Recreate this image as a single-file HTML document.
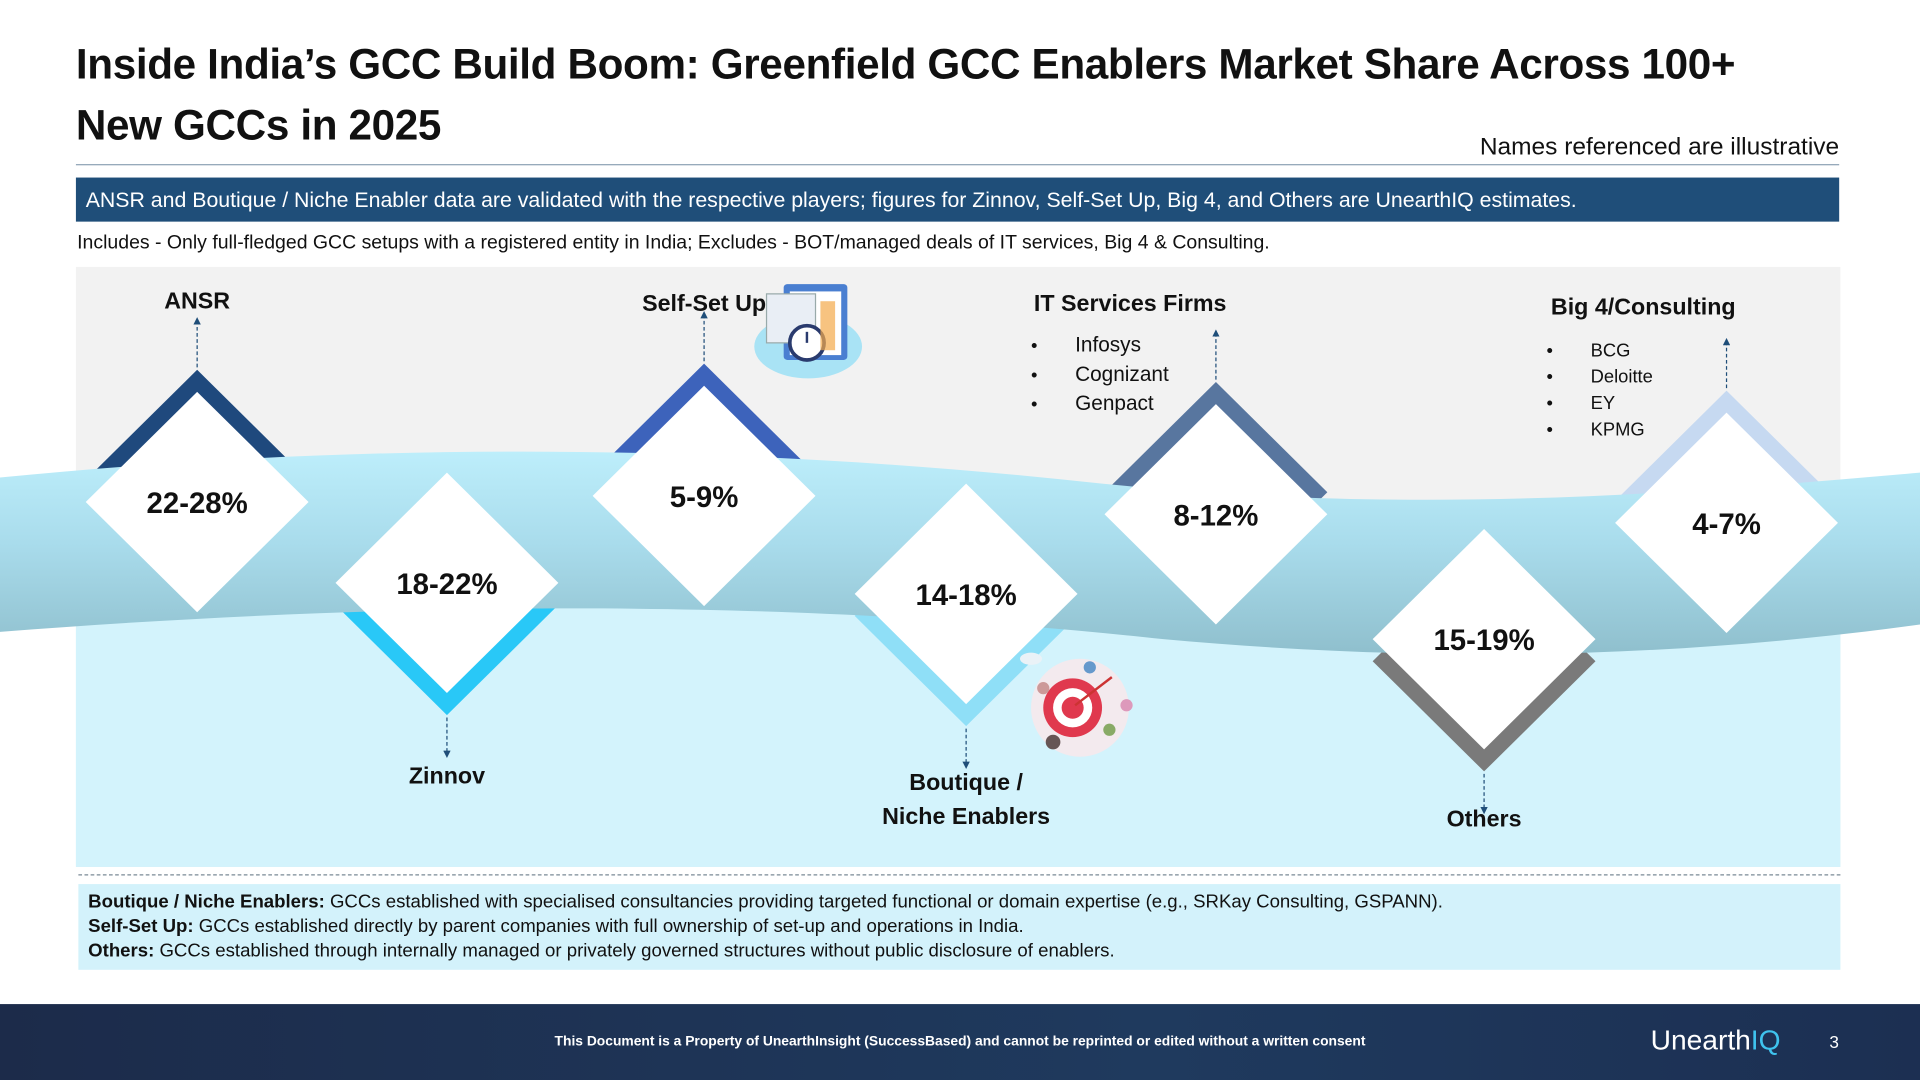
<!DOCTYPE html>
<html><head><meta charset="utf-8">
<style>
html,body{margin:0;padding:0;background:#fff;overflow:hidden;}
body{width:1920px;height:1080px;}
#stage{position:absolute;left:0;top:0;width:1568px;height:882px;transform:scale(1.22449);transform-origin:0 0;font-family:"Liberation Sans",sans-serif;color:#000;}
.abs{position:absolute;}
#title{left:62px;top:28px;font-size:34.5px;font-weight:bold;line-height:50px;color:#111;letter-spacing:-0.3px;white-space:nowrap;}
#rule{left:62px;top:134px;width:1440px;height:1px;background:#8ea2b5;}
#illus{right:66px;top:109px;font-size:20px;color:#111;}
#banner{left:62px;top:145px;width:1440px;height:36px;background:#1f4e79;color:#fff;font-size:17.4px;line-height:36px;padding-left:8px;box-sizing:border-box;white-space:nowrap;}
#incl{left:63px;top:190px;font-size:15.9px;color:#111;white-space:nowrap;}
#notes{left:64px;top:722px;width:1439px;height:70px;background:#d3f2fb;font-size:15.2px;line-height:20px;padding:5px 8px;box-sizing:border-box;color:#111;white-space:nowrap;}
#dash{left:64px;top:714px;width:1439px;border-top:1.5px dashed #7a8a96;}
#footer{left:0;top:820px;width:1568px;height:62px;background:linear-gradient(90deg,#1c2b4a,#1f3a5e 60%,#1c2f52);}
#foottext{left:0;width:1568px;top:845px;text-align:center;color:#fff;font-size:11.3px;font-weight:bold;}
#logo{left:1348px;top:836px;color:#fff;font-size:23px;}
#page{left:1494px;top:843px;color:#fff;font-size:14px;}
</style></head>
<body>
<div id="stage">
<div id="title" class="abs">Inside India’s GCC Build Boom: Greenfield GCC Enablers Market Share Across 100+<br>New GCCs in 2025</div>
<div id="illus" class="abs">Names referenced are illustrative</div>
<div id="rule" class="abs"></div>
<div id="banner" class="abs">ANSR and Boutique / Niche Enabler data are validated with the respective players; figures for Zinnov, Self-Set Up, Big 4, and Others are UnearthIQ estimates.</div>
<div id="incl" class="abs">Includes - Only full-fledged GCC setups with a registered entity in India; Excludes - BOT/managed deals of IT services, Big 4 &amp; Consulting.</div>

<svg class="abs" style="left:0;top:0" width="1568" height="882" viewBox="0 0 1568 882" id="chart">
<defs>
<linearGradient id="bandg" x1="0" y1="0" x2="0" y2="1">
<stop offset="0" stop-color="#bdeefb"/><stop offset="0.45" stop-color="#a9dcec"/><stop offset="1" stop-color="#8fbfcd"/>
</linearGradient>
<marker id="arr" markerWidth="6" markerHeight="6" refX="3" refY="3" orient="auto"><path d="M0,0 L6,3 L0,6 z" fill="#1f4e79"/></marker>
</defs>
<rect x="62" y="218" width="1441" height="490" fill="#f2f2f2"/>
<rect x="62" y="470" width="1441" height="238" fill="#d3f3fc"/>
<g id="back"></g>
<path d="M0,390 C300,360 600,362 900,395 C1150,420 1350,405 1568,386 L1568,510 C1350,540 1150,540 950,522 C700,495 400,485 0,516 Z" fill="url(#bandg)"/>
<g id="front"></g>
<g>
<ellipse cx="660" cy="283" rx="44" ry="26" fill="#a9e3f5"/>
<rect x="640" y="232" width="52" height="62" rx="3" fill="#4a7fd1"/>
<rect x="645" y="238" width="42" height="52" fill="#fff"/>
<rect x="626" y="240" width="40" height="40" fill="#e9eef5" stroke="#9aa" stroke-width="1"/>
<circle cx="659" cy="280" r="14" fill="#fff" stroke="#2a3b6e" stroke-width="3"/>
<line x1="659" y1="280" x2="659" y2="271" stroke="#2a3b6e" stroke-width="2"/>
<rect x="670" y="246" width="12" height="40" fill="#f4a94a" opacity="0.7"/>
</g>
<g>
<circle cx="882" cy="578" r="40" fill="#fbe7ea" opacity="0.8"/>
<circle cx="876" cy="578" r="24" fill="#e0394e"/>
<circle cx="876" cy="578" r="16" fill="#fff"/>
<circle cx="876" cy="578" r="9" fill="#e0394e"/>
<line x1="878" y1="576" x2="908" y2="553" stroke="#c33" stroke-width="2"/>
<circle cx="852" cy="562" r="5" fill="#c99"/><circle cx="920" cy="576" r="5" fill="#d9b"/><circle cx="906" cy="596" r="5" fill="#8a6"/><circle cx="890" cy="545" r="5" fill="#69c"/><circle cx="860" cy="606" r="6" fill="#655"/>
<ellipse cx="842" cy="538" rx="9" ry="5" fill="#eaf2f7"/>
</g>
<g id="labels"></g>
</svg>

<div id="dash" class="abs"></div>
<div id="notes" class="abs">
<div><b>Boutique / Niche Enablers:</b> GCCs established with specialised consultancies providing targeted functional or domain expertise (e.g., SRKay Consulting, GSPANN).</div>
<div><b>Self-Set Up:</b> GCCs established directly by parent companies with full ownership of set-up and operations in India.</div>
<div><b>Others:</b> GCCs established through internally managed or privately governed structures without public disclosure of enablers.</div>
</div>
<div id="footer" class="abs"></div>
<div id="foottext" class="abs">This Document is a Property of UnearthInsight (SuccessBased) and cannot be reprinted or edited without a written consent</div>
<div id="logo" class="abs">Unearth<span style="color:#3fc3ee">IQ</span></div>
<div id="page" class="abs">3</div>
</div>

<script>
// data
const categories = ["ANSR","Zinnov","Self-Set Up","IT Services Firms","Boutique / Niche Enablers","Others","Big 4/Consulting"];
const shareLabels = ["22-28%","18-22%","5-9%","8-12%","14-18%","15-19%","4-7%"];
const shareLow = [22,18,5,8,14,15,4];
const shareHigh = [28,22,9,12,18,19,7];
const subItems = [[],[],[],["Infosys","Cognizant","Genpact"],[],[],["BCG","Deloitte","EY","KPMG"]];
// layout (order on slide, not data)
const slotOrder = [0,1,2,4,3,5,6];
const slotX = [161,365,575,789,993,1212,1410];
const slotY = [410,476,405,485,420,522,427];
const slotDir = [-1,1,-1,1,-1,1,-1];
const slotColor = ["#1f497d","#29c8f7","#3d63bb","#8fdff7","#58769f","#7a7a7a","#c6d9f1"];
const HW = 91, HH = 90, OFF = 18;

const NS = "http://www.w3.org/2000/svg";
const back = document.getElementById('back'), front = document.getElementById('front'), labels = document.getElementById('labels');
function xPos(slot){ return slotX[slot]; }
function yPos(slot){ return slotY[slot]; }
function diamond(cx,cy){ return `M${cx},${cy-HH} L${cx+HW},${cy} L${cx},${cy+HH} L${cx-HW},${cy} Z`; }
function text(x,y,str,size,weight,anchor,g){
  const t=document.createElementNS(NS,'text');
  t.setAttribute('x',x);t.setAttribute('y',y);t.setAttribute('font-size',size);
  t.setAttribute('font-weight',weight);t.setAttribute('text-anchor',anchor);
  t.setAttribute('font-family','Liberation Sans, sans-serif');t.setAttribute('fill','#111');
  t.textContent=str;g.appendChild(t);return t;
}
slotOrder.forEach((ci,slot)=>{
  const cx=xPos(slot), cy=yPos(slot), d=slotDir[slot];
  const c=document.createElementNS(NS,'path');
  c.setAttribute('d',diamond(cx,cy+d*OFF));c.setAttribute('fill',slotColor[slot]);
  
  
  back.appendChild(c);
  const w=document.createElementNS(NS,'path');
  w.setAttribute('d',diamond(cx,cy));w.setAttribute('fill','#fff');
  
  
  front.appendChild(w);
  const v=text(cx,cy+9,shareLabels[ci],24,'bold','middle',front);
  
  
  const a=document.createElementNS(NS,'line');
  const y1 = d<0 ? cy-HH-OFF-2 : cy+HH+OFF+2;
  const y2 = d<0 ? y1-38 : y1+30;
  a.setAttribute('x1',cx);a.setAttribute('x2',cx);a.setAttribute('y1',y1);a.setAttribute('y2',y2);
  a.setAttribute('stroke','#1f4e79');a.setAttribute('stroke-dasharray','3,2');a.setAttribute('marker-end','url(#arr)');
  
  
  labels.appendChild(a);
  let lx=cx, anchor='middle', ly;
  if(d<0){ ly = cy-HH-OFF-50; } else { ly = y2+24; }
  if(categories[ci]==="IT Services Firms"){ lx=923; ly=254; }
  if(categories[ci]==="Big 4/Consulting"){ lx=1342; ly=257; }
  if(categories[ci]==="Self-Set Up"){ ly=254; }
  if(categories[ci]==="Others"){ ly=675; }
  if(categories[ci]==="Boutique / Niche Enablers"){
    const t1=text(lx,645,"Boutique /",19,'bold','middle',labels);
    
    
    const t2=text(lx,673,"Niche Enablers",19,'bold','middle',labels);
    
    
  } else {
    const t=text(lx,ly,categories[ci],19,'bold',anchor,labels);
    
    
  }
  const items=subItems[ci];
  items.forEach((it,k)=>{
    const big = items.length===4;
    const bx = big?1263:842, tx = big?1299:878, by = (big?291:287)+k*(big?21.5:24);
    const b=text(bx,by,"•",15,'normal','start',labels);
    
    
    const s=text(tx,by,it,big?15:17,'normal','start',labels);
    
    
  });
});
</script>
</body></html>
